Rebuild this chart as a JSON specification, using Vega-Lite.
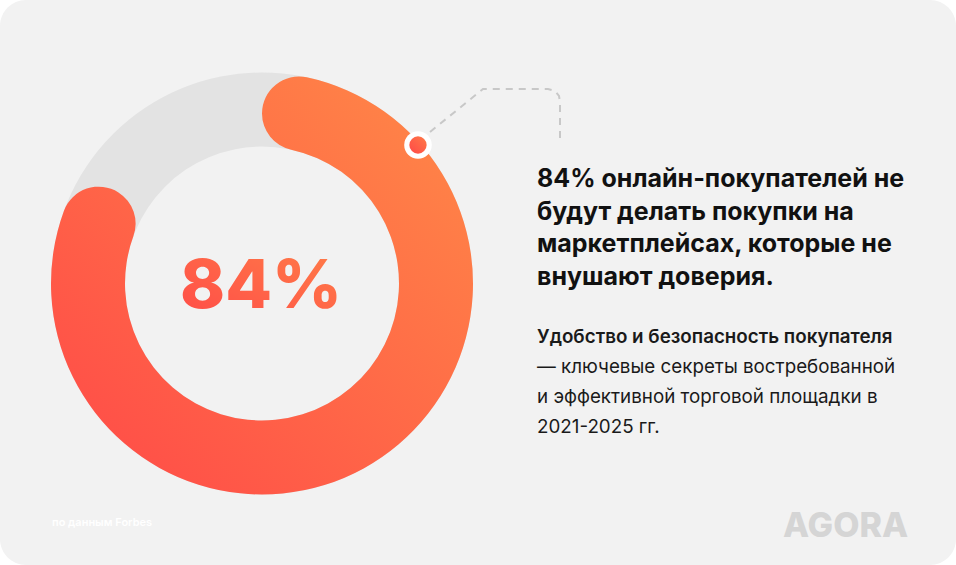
{
  "$schema": "https://vega.github.io/schema/vega-lite/v6.json",
  "width": 956,
  "height": 565,
  "autosize": {"type": "fit", "contains": "padding"},
  "padding": 0,
  "background": "#ffffff",
  "config": {"view": {"fill": "#f2f2f2", "stroke": null, "cornerRadius": 26}},
  "datasets": {
    "ring": [{"px": 262, "py": 283.5, "a0": 0, "a1": 100}],
    "share": [{"px": 262, "py": 283.5, "a0": 0, "a1": 84}],
    "connector": [
      {"px": 430, "py": 132, "ord": 1},
      {"px": 483, "py": 89, "ord": 2},
      {"px": 548, "py": 89, "ord": 3},
      {"px": 555, "py": 91, "ord": 4},
      {"px": 559, "py": 96, "ord": 5},
      {"px": 560, "py": 102, "ord": 6},
      {"px": 560, "py": 143, "ord": 7}
    ],
    "dot": [{"px": 418, "py": 145}],
    "big": [{"px": 261, "py": 308, "t": "84%"}],
    "heading": [
      {"px": 537, "py": 187, "t": "84% онлайн-покупателей не"},
      {"px": 537, "py": 220, "t": "будут делать покупки на"},
      {"px": 537, "py": 252, "t": "маркетплейсах, которые не"},
      {"px": 537, "py": 285, "t": "внушают доверия."}
    ],
    "subBold": [{"px": 537, "py": 343, "t": "Удобство и безопасность покупателя"}],
    "sub": [
      {"px": 537, "py": 373, "t": "— ключевые секреты востребованной"},
      {"px": 537, "py": 403, "t": "и эффективной торговой площадки в"},
      {"px": 537, "py": 433, "t": "2021-2025 гг."}
    ],
    "source": [{"px": 52, "py": 526, "t": "по данным Forbes"}],
    "logo": [{"px": 783, "py": 537, "t": "AGORA"}]
  },
  "encoding": {
    "x": {"field": "px", "type": "quantitative", "scale": {"domain": [0, 956], "nice": false, "zero": false}, "axis": null},
    "y": {"field": "py", "type": "quantitative", "scale": {"domain": [0, 565], "nice": false, "zero": false, "reverse": true}, "axis": null}
  },
  "layer": [
    {
      "data": {"name": "ring"},
      "mark": {"type": "arc", "outerRadius": 211, "innerRadius": 137, "fill": "#e3e3e3"},
      "encoding": {
        "theta": {"field": "a0", "type": "quantitative", "scale": {"domain": [0, 100], "range": [0, 6.283185]}},
        "theta2": {"field": "a1"}
      }
    },
    {
      "data": {"name": "share"},
      "mark": {"type": "arc", "outerRadius": 211, "innerRadius": 137, "cornerRadius": 37,
        "fill": {"gradient": "linear", "x1": 1, "y1": 0, "x2": 0, "y2": 1,
          "stops": [{"offset": 0, "color": "#ff8a47"}, {"offset": 1, "color": "#ff4848"}]}},
      "encoding": {
        "theta": {"field": "a0", "type": "quantitative", "scale": {"domain": [0, 100], "range": [0, 6.283185]}},
        "theta2": {"field": "a1"}
      }
    },
    {
      "data": {"name": "connector"},
      "mark": {"type": "line", "stroke": "#c8c8c8", "strokeWidth": 2, "strokeDash": [7, 6]},
      "encoding": {"order": {"field": "ord", "type": "quantitative"}}
    },
    {
      "data": {"name": "dot"},
      "mark": {"type": "point", "shape": "circle", "filled": true, "fill": "#ffffff", "size": 760, "opacity": 1},
      "encoding": {}
    },
    {
      "data": {"name": "dot"},
      "mark": {"type": "point", "shape": "circle", "filled": true, "opacity": 1, "size": 300,
        "fill": {"gradient": "linear", "x1": 1, "y1": 0, "x2": 0, "y2": 1,
          "stops": [{"offset": 0, "color": "#ff7a47"}, {"offset": 1, "color": "#ff4848"}]}},
      "encoding": {}
    },
    {
      "data": {"name": "big"},
      "mark": {"type": "text", "font": "Inter", "fontWeight": 800, "fontSize": 68, "align": "center", "baseline": "alphabetic",
        "fill": {"gradient": "linear", "x1": 1, "y1": 0, "x2": 0, "y2": 1,
          "stops": [{"offset": 0, "color": "#ff7f48"}, {"offset": 1, "color": "#ff4b48"}]}},
      "encoding": {"text": {"field": "t"}}
    },
    {
      "data": {"name": "heading"},
      "mark": {"type": "text", "font": "Inter", "fontWeight": 700, "fontSize": 25, "align": "left", "baseline": "alphabetic", "fill": "#111111"},
      "encoding": {"text": {"field": "t"}}
    },
    {
      "data": {"name": "subBold"},
      "mark": {"type": "text", "font": "Inter", "fontWeight": 600, "fontSize": 18.8, "align": "left", "baseline": "alphabetic", "fill": "#1a1a1a"},
      "encoding": {"text": {"field": "t"}}
    },
    {
      "data": {"name": "sub"},
      "mark": {"type": "text", "font": "Inter", "fontWeight": 400, "fontSize": 18.8, "align": "left", "baseline": "alphabetic", "fill": "#1a1a1a"},
      "encoding": {"text": {"field": "t"}}
    },
    {
      "data": {"name": "source"},
      "mark": {"type": "text", "font": "Inter", "fontWeight": 600, "fontSize": 11, "align": "left", "baseline": "alphabetic", "fill": "#ffffff"},
      "encoding": {"text": {"field": "t"}}
    },
    {
      "data": {"name": "logo"},
      "mark": {"type": "text", "font": "Inter", "fontWeight": 800, "fontSize": 34, "align": "left", "baseline": "alphabetic", "fill": "#d5d5d5"},
      "encoding": {"text": {"field": "t"}}
    }
  ]
}
